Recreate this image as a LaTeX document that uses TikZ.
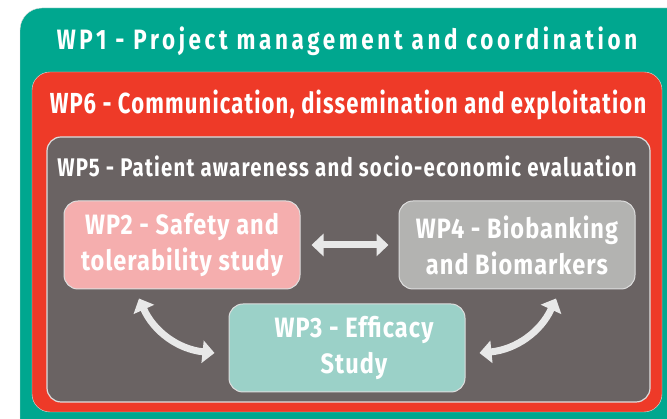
\documentclass[tikz,border=0pt]{standalone}
\usepackage{fontspec}
\setmainfont{Fira Sans}
\newfontfamily\wpmgmt{Fira Sans}[FakeStretch=0.80,LetterSpace=13]
\newfontfamily\wpcomm{Fira Sans}[FakeStretch=0.76,LetterSpace=4]
\newfontfamily\wpaware{Fira Sans}[FakeStretch=0.80,LetterSpace=4.8]
\newfontfamily\wpbox{Fira Sans}[FakeStretch=0.84,LetterSpace=3.8]
\usetikzlibrary{arrows.meta}

\definecolor{wpteal}{RGB}{0,167,143}
\definecolor{wpred}{RGB}{238,58,40}
\definecolor{wpgrey}{RGB}{106,99,99}
\definecolor{wppink}{RGB}{245,174,174}
\definecolor{wpsilver}{RGB}{179,179,177}
\definecolor{wpmint}{RGB}{155,209,200}
\definecolor{wpline}{RGB}{222,222,222}
\definecolor{wparrow}{RGB}{232,232,232}

\begin{document}
\begin{tikzpicture}
  [x=1pt,y=1pt,
   title/.style={text=white,anchor=base,inner sep=0pt},
   wp/.style={rounded corners=14pt,draw=wpline,line width=1pt,text=white,
     minimum width=236pt,minimum height=88pt,align=center,
     font=\wpbox\bfseries\fontsize{28}{36}\selectfont},
   link/.style={wparrow,line width=7pt,
     {Triangle[width=22pt,length=12pt]}-{Triangle[width=22pt,length=12pt]}}]
  \useasboundingbox (0,0) rectangle (667,419);
  \clip (0,0) rectangle (667,419);

  % nested frames
  \filldraw[fill=wpteal,draw=wpline,rounded corners=22pt] (20,411) rectangle (700,-30);
  \filldraw[fill=wpred,draw=wpline,rounded corners=18pt] (32,347) rectangle (662,7);
  \filldraw[fill=wpgrey,draw=wpline,line width=1.2pt,rounded corners=14pt] (47,282) rectangle (650,17);

  \node[title,font=\wpmgmt\bfseries\fontsize{28}{28}\selectfont] (wp1) at (347,369) {WP1 - Project management and coordination};
  \node[title,font=\wpcomm\bfseries\fontsize{29}{29}\selectfont] (wp6) at (348,305) {WP6 - Communication, dissemination and exploitation};
  \node[title,font=\wpaware\bfseries\fontsize{25.5}{25.5}\selectfont] (wp5) at (347,242) {WP5 - Patient awareness and socio-economic evaluation};

  \node[wp,fill=wppink] (wp2) at (182,174) {WP2 - Safety and\\tolerability study};
  \node[wp,fill=wpsilver] (wp4) at (517,174) {WP4 - Biobanking\\and Biomarkers};
  \node[wp,fill=wpmint] (wp3) at (347,71) {\hspace*{14pt}WP3 - Efficacy\\\hspace*{14pt}Study};

  \draw[link] ([xshift=11pt]wp2.east) -- ([xshift=-10pt]wp4.west);
  \draw[link] ([shift={(-43,-9)}]wp2.south) to[bend right=30] ([shift={(-14,-5)}]wp3.west);
  \draw[link] ([shift={(39,-9)}]wp4.south) to[bend left=30] ([shift={(14,-5)}]wp3.east);

\end{tikzpicture}
\end{document}
